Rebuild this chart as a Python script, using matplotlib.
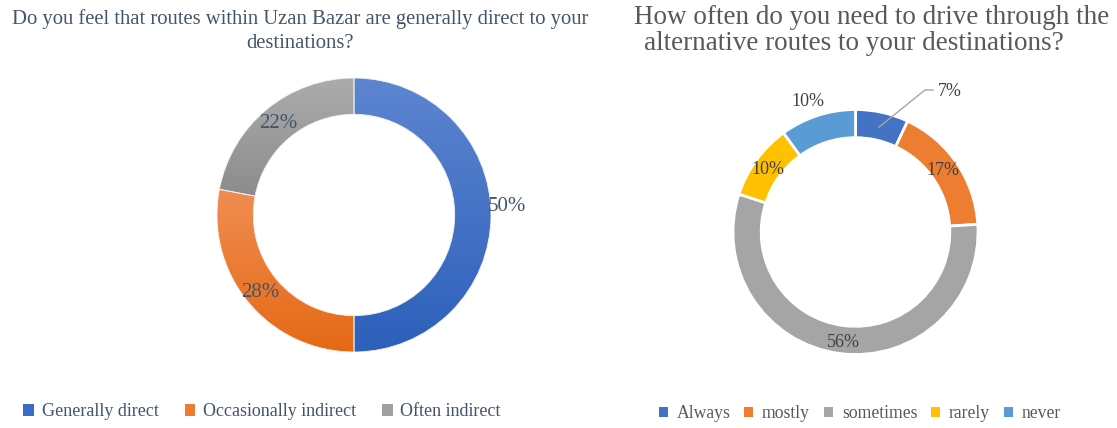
import numpy as np
import matplotlib
matplotlib.use("Agg")
import matplotlib.pyplot as plt
from matplotlib.patches import Patch

plt.rcParams["font.family"] = ["Liberation Serif", "DejaVu Serif"]

# Left chart: directness of routes
left_title = "Do you feel that routes within Uzan Bazar are generally direct to your\ndestinations?"
left_labels = ["Generally direct", "Occasionally indirect", "Often indirect"]
left_values = [50, 28, 22]
left_top_colors = ["#5d85d0", "#f08d52", "#acacac"]
left_bottom_colors = ["#2d60bb", "#e56914", "#8c8c8c"]
left_legend_colors = ["#3a6cc6", "#ee7a33", "#a0a0a0"]

# Right chart: frequency of using alternative routes
right_title_lines = ["How often do you need to drive through the",
                     "alternative routes to your destinations?"]
right_labels = ["Always", "mostly", "sometimes", "rarely", "never"]
right_values = [7, 17, 56, 10, 10]
right_colors = ["#4472c4", "#ed7d31", "#a5a5a5", "#ffc000", "#5b9bd5"]

W, H = 1117, 428
fig = plt.figure(figsize=(W / 100, H / 100), dpi=100)


def donut_axes(cx, cy, r):
    """Square axes centred on (cx, cy) pixels (from top-left), radius r pixels."""
    ax = fig.add_axes([(cx - r) / W, (H - cy - r) / H, 2 * r / W, 2 * r / H])
    ax.set_xlim(-1, 1)
    ax.set_ylim(-1, 1)
    ax.set_aspect("equal")
    ax.axis("off")
    return ax


def hex_rgb(c):
    return np.array(matplotlib.colors.to_rgb(c))


# ---- left donut with vertical gradient wedges ----
axl = donut_axes(354, 215, 137)
wedges_l, _ = axl.pie(left_values, radius=1, startangle=90, counterclock=False,
                      colors=left_legend_colors,
                      wedgeprops=dict(width=0.265, edgecolor="white", linewidth=0.6))
for w, ctop, cbot in zip(wedges_l, left_top_colors, left_bottom_colors):
    ext = w.get_path().get_extents()
    t = np.linspace(0, 1, 256)[:, None]
    grad = (1 - t) * hex_rgb(ctop) + t * hex_rgb(cbot)
    img = np.repeat(grad[:, None, :], 2, axis=1)
    im = axl.imshow(img, extent=(ext.x0, ext.x1, ext.y0, ext.y1), origin="upper",
                    aspect="auto", zorder=w.get_zorder() + 0.1, interpolation="bilinear")
    im.set_clip_path(w)
    edge = matplotlib.patches.Wedge((0, 0), 1, w.theta1, w.theta2, width=0.265,
                                    facecolor="none", edgecolor="#f4f4f4", linewidth=0.6,
                                    zorder=w.get_zorder() + 0.2)
    axl.add_patch(edge)
axl.set_xlim(-1, 1)
axl.set_ylim(-1, 1)

left_label_r = [1.12, 0.89, 0.87]
left_label_dang = [3, 0, 0]
ang = 90.0
for v, r, da in zip(left_values, left_label_r, left_label_dang):
    mid = ang - v * 3.6 / 2
    ang -= v * 3.6
    a = np.deg2rad(mid + da)
    axl.text(r * np.cos(a), r * np.sin(a), f"{v}%", ha="center", va="center",
             fontsize=15, color="#44546a", clip_on=False)

fig.text(300 / W, 1 - 31 / H, left_title, ha="center", va="center",
         fontsize=14.9, color="#44546a", linespacing=1.35)

leg_l = fig.legend([Patch(facecolor=c) for c in left_legend_colors], left_labels,
                   loc="center", bbox_to_anchor=(262 / W, 1 - 412 / H), ncol=3,
                   frameon=False, fontsize=13, handlelength=0.6, handleheight=0.6,
                   handletextpad=0.4, columnspacing=1.45)
for t in leg_l.get_texts():
    t.set_color("#44546a")

# ---- right donut ----
axr = donut_axes(855.5, 232, 122.5)
wedges_r, _ = axr.pie(right_values, radius=1, startangle=90, counterclock=False,
                      colors=right_colors,
                      wedgeprops=dict(width=0.23, edgecolor="white", linewidth=2))
axr.set_xlim(-1, 1)
axr.set_ylim(-1, 1)

right_label_r = [None, 0.87, 0.91, 0.875, 1.13]
right_label_dang = [0, 1, 1, 0.5, 2]
ang = 90.0
mids = []
for v, r, da in zip(right_values, right_label_r, right_label_dang):
    mid = ang - v * 3.6 / 2
    ang -= v * 3.6
    mids.append(mid)
    if r is None:
        continue
    a = np.deg2rad(mid + da)
    axr.text(r * np.cos(a), r * np.sin(a), f"{v}%", ha="center", va="center",
             fontsize=13, color="#404040", clip_on=False)

# leader line for the small first slice
a0 = np.deg2rad(mids[0])
p0 = (0.877 * np.cos(a0), 0.877 * np.sin(a0))
p1 = (0.567, 1.159)
p2 = (0.633, 1.159)
axr.plot([p0[0], p1[0], p2[0]], [p0[1], p1[1], p2[1]], color="#a6a6a6",
         linewidth=1, clip_on=False)
axr.text(0.673, 1.151, f"{right_values[0]}%", ha="left", va="center",
         fontsize=13, color="#404040", clip_on=False)

for line, xc, yc in zip(right_title_lines, [871.5, 854], [17, 44]):
    fig.text(xc / W, 1 - yc / H, line, ha="center", va="center",
             fontsize=19.5, color="#595959")

leg_r = fig.legend([Patch(facecolor=c) for c in right_colors], right_labels,
                   loc="center", bbox_to_anchor=(860 / W, 1 - 414 / H), ncol=5,
                   frameon=False, fontsize=12.7, handlelength=0.5, handleheight=0.5,
                   handletextpad=0.5, columnspacing=0.8)
for t in leg_r.get_texts():
    t.set_color("#595959")

fig.savefig("out.png", dpi=100, facecolor="white")
